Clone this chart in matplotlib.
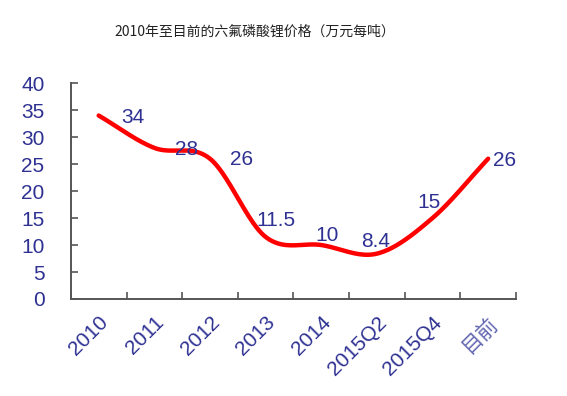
import numpy as np
import matplotlib
matplotlib.use("Agg")
import matplotlib.pyplot as plt

plt.rcParams['font.family'] = ['Liberation Sans', 'Noto Sans CJK SC', 'DejaVu Sans']

title = "2010年至目前的六氟磷酸锂价格（万元每吨）"
categories = ["2010", "2011", "2012", "2013", "2014", "2015Q2", "2015Q4", "目前"]
values = [34, 28, 26, 11.5, 10, 8.4, 15, 26]
value_labels = ["34", "28", "26", "11.5", "10", "8.4", "15", "26"]
yticks = [0, 5, 10, 15, 20, 25, 30, 35, 40]

# label offsets in points (dx, dy) relative to each data point
label_offsets = [(16, -1.5), (15, -1), (14.5, -0.5), (-6.5, 12), (-4.5, 7), (-11, 9), (-11, 11), (3.5, -1.5)]

blue = "#2E3192"
FS = 15


def catmull_rom(x, y, n=40):
    x = np.asarray(x, float)
    y = np.asarray(y, float)
    px = np.concatenate([[2 * x[0] - x[1]], x, [2 * x[-1] - x[-2]]])
    py = np.concatenate([[2 * y[0] - y[1]], y, [2 * y[-1] - y[-2]]])
    xs, ys = [], []
    for i in range(1, len(px) - 2):
        p0, p1, p2, p3 = (np.array([px[j], py[j]]) for j in range(i - 1, i + 3))
        c1 = p1 + (p2 - p0) / 6.0
        c2 = p2 - (p3 - p1) / 6.0
        t = np.linspace(0, 1, n, endpoint=(i == len(px) - 3))[:, None]
        pts = ((1 - t) ** 3) * p1 + 3 * ((1 - t) ** 2) * t * c1 + 3 * (1 - t) * t ** 2 * c2 + t ** 3 * p2
        xs.append(pts[:, 0])
        ys.append(pts[:, 1])
    return np.concatenate(xs), np.concatenate(ys)


fig = plt.figure(figsize=(5.67, 3.96), dpi=100)
ax = fig.add_axes([0.125, 0.245, 0.785, 0.545])

xpos = np.arange(len(categories))
sx, sy = catmull_rom(xpos, values)
ax.plot(sx, sy, color="#FF0000", linewidth=3.2, solid_capstyle="round", zorder=3)

for xi, v, lab, off in zip(xpos, values, value_labels, label_offsets):
    ax.annotate(lab, (xi, v), xytext=off, textcoords="offset points",
                ha="left", va="center", fontsize=FS, color=blue, zorder=4)

ax.set_xlim(-0.5, len(categories) - 0.5)
ax.set_ylim(0, 40)
ax.set_yticks(yticks)
ax.set_yticklabels([str(t) for t in yticks], fontsize=FS, color=blue)
ax.set_xticks(np.arange(-0.5, len(categories), 1.0))
ax.set_xticklabels([])
ax.set_xticks(xpos, minor=True)
ax.set_xticklabels(categories, minor=True, rotation=45, ha="right", va="top",
                   rotation_mode="anchor", fontsize=FS, color=blue)
ax.tick_params(axis="x", which="minor", length=0, pad=10)
ax.tick_params(axis="x", which="major", direction="in", length=5, width=1.2, color="#555555")
ax.tick_params(axis="y", direction="in", length=5, width=1.2, color="#555555", pad=19)
for lbl in ax.get_xticklabels(minor=True):
    if lbl.get_text() == "目前":
        lbl.set_color("#6165B0")

for s in ["top", "right"]:
    ax.spines[s].set_visible(False)
for s in ["left", "bottom"]:
    ax.spines[s].set_color("#555555")
    ax.spines[s].set_linewidth(1.4)

fig.text(0.45, 0.92, title, ha="center", va="center", fontsize=10, color="#222222",
         family=['Noto Sans CJK SC', 'DejaVu Sans'])

fig.savefig("out.png", dpi=100, facecolor="white")
